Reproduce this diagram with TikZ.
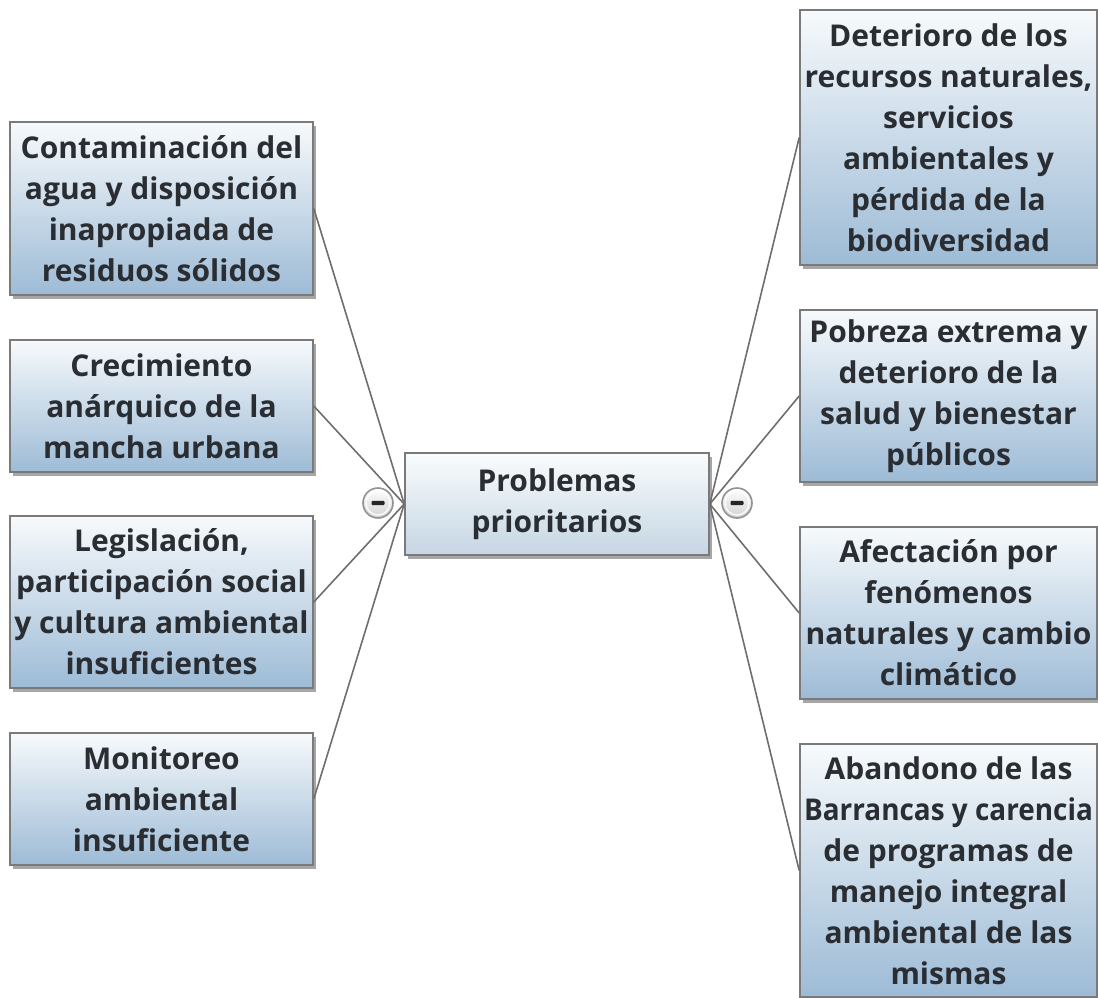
\documentclass[tikz,border=0pt]{standalone}
\usepackage{graphicx}
\usepackage{fontspec}
\setmainfont{Open Sans}
\usetikzlibrary{shadows}
\definecolor{txt}{HTML}{2A2E33}
\definecolor{edgec}{HTML}{7A7A7A}
\definecolor{linec}{HTML}{6E6E6E}
\definecolor{leaftop}{HTML}{F7FAFC}
\definecolor{leafbot}{HTML}{9DBBD6}
\definecolor{roottop}{HTML}{FAFCFD}
\definecolor{rootbot}{HTML}{C5D6E3}
\tikzset{
  box/.style={rectangle, draw=edgec, line width=1.6pt, inner sep=0pt,
    align=center, text=txt, font=\fontsize{30}{41}\selectfont\bfseries,
    drop shadow={shadow xshift=3pt, shadow yshift=-4pt, fill=black, opacity=0.35}},
  leafL/.style={box, top color=leaftop, bottom color=leafbot, minimum width=303pt},
  leafR/.style={box, top color=leaftop, bottom color=leafbot, minimum width=297pt},
  rootbox/.style={box, top color=roottop, bottom color=rootbot, minimum width=304pt, minimum height=102pt},
  conn/.style={draw=linec, line width=1.6pt},
  minusbtn/.style={circle, minimum size=30pt, inner sep=0pt, draw=gray!85, line width=1.6pt,
    top color=white, bottom color=gray!35,
    path picture={
      \draw[white, line width=1.2pt] (path picture bounding box.center) circle (12pt);
      \fill[black!85, rounded corners=1pt]
        ([xshift=-6.5pt,yshift=-2.2pt]path picture bounding box.center)
        rectangle ([xshift=6.5pt,yshift=2.2pt]path picture bounding box.center);
    }}
}
\begin{document}
\begin{tikzpicture}[x=1pt,y=-1pt]
\useasboundingbox (0,0) rectangle (1098,997);
% left children
\node[leafL, minimum height=173pt] (l1) at (161.5,208.5) {Contaminación del\\agua y disposición\\inapropiada de\\residuos sólidos};
\node[leafL, minimum height=132pt] (l2) at (161.5,406) {Crecimiento\\anárquico de la\\mancha urbana};
\node[leafL, minimum height=172pt] (l3) at (161.5,602) {Legislación,\\participación social\\y cultura ambiental\\insuficientes};
\node[leafL, minimum height=132pt] (l4) at (161.5,799) {Monitoreo\\ambiental\\insuficiente};
% right children
\node[leafR, minimum height=255pt] (r1) at (948.5,137.5) {Deterioro de los\\recursos naturales,\\servicios\\ambientales y\\pérdida de la\\biodiversidad};
\node[leafR, minimum height=172pt] (r2) at (948.5,396) {Pobreza extrema y\\deterioro de la\\salud y bienestar\\públicos};
\node[leafR, minimum height=172pt] (r3) at (948.5,613) {Afectación por\\fenómenos\\naturales y cambio\\climático};
\node[leafR, minimum height=253pt] (r4) at (948.5,870.5) {Abandono de las\\\scalebox{0.93}[1]{Barrancas y carencia}\\de programas de\\manejo integral\\ambiental de las\\mismas};
% root
\node[rootbox] (root) at (557,504) {Problemas\\prioritarios};
% connectors
\foreach \n in {l1,l2,l3,l4} \draw[conn] (root.west) -- (\n.east);
\foreach \n in {r1,r2,r3,r4} \draw[conn] (root.east) -- (\n.west);
% collapse buttons
\node[minusbtn] (ml) at (378,503) {};
\node[minusbtn] (mr) at (737,503) {};
\end{tikzpicture}
\end{document}
